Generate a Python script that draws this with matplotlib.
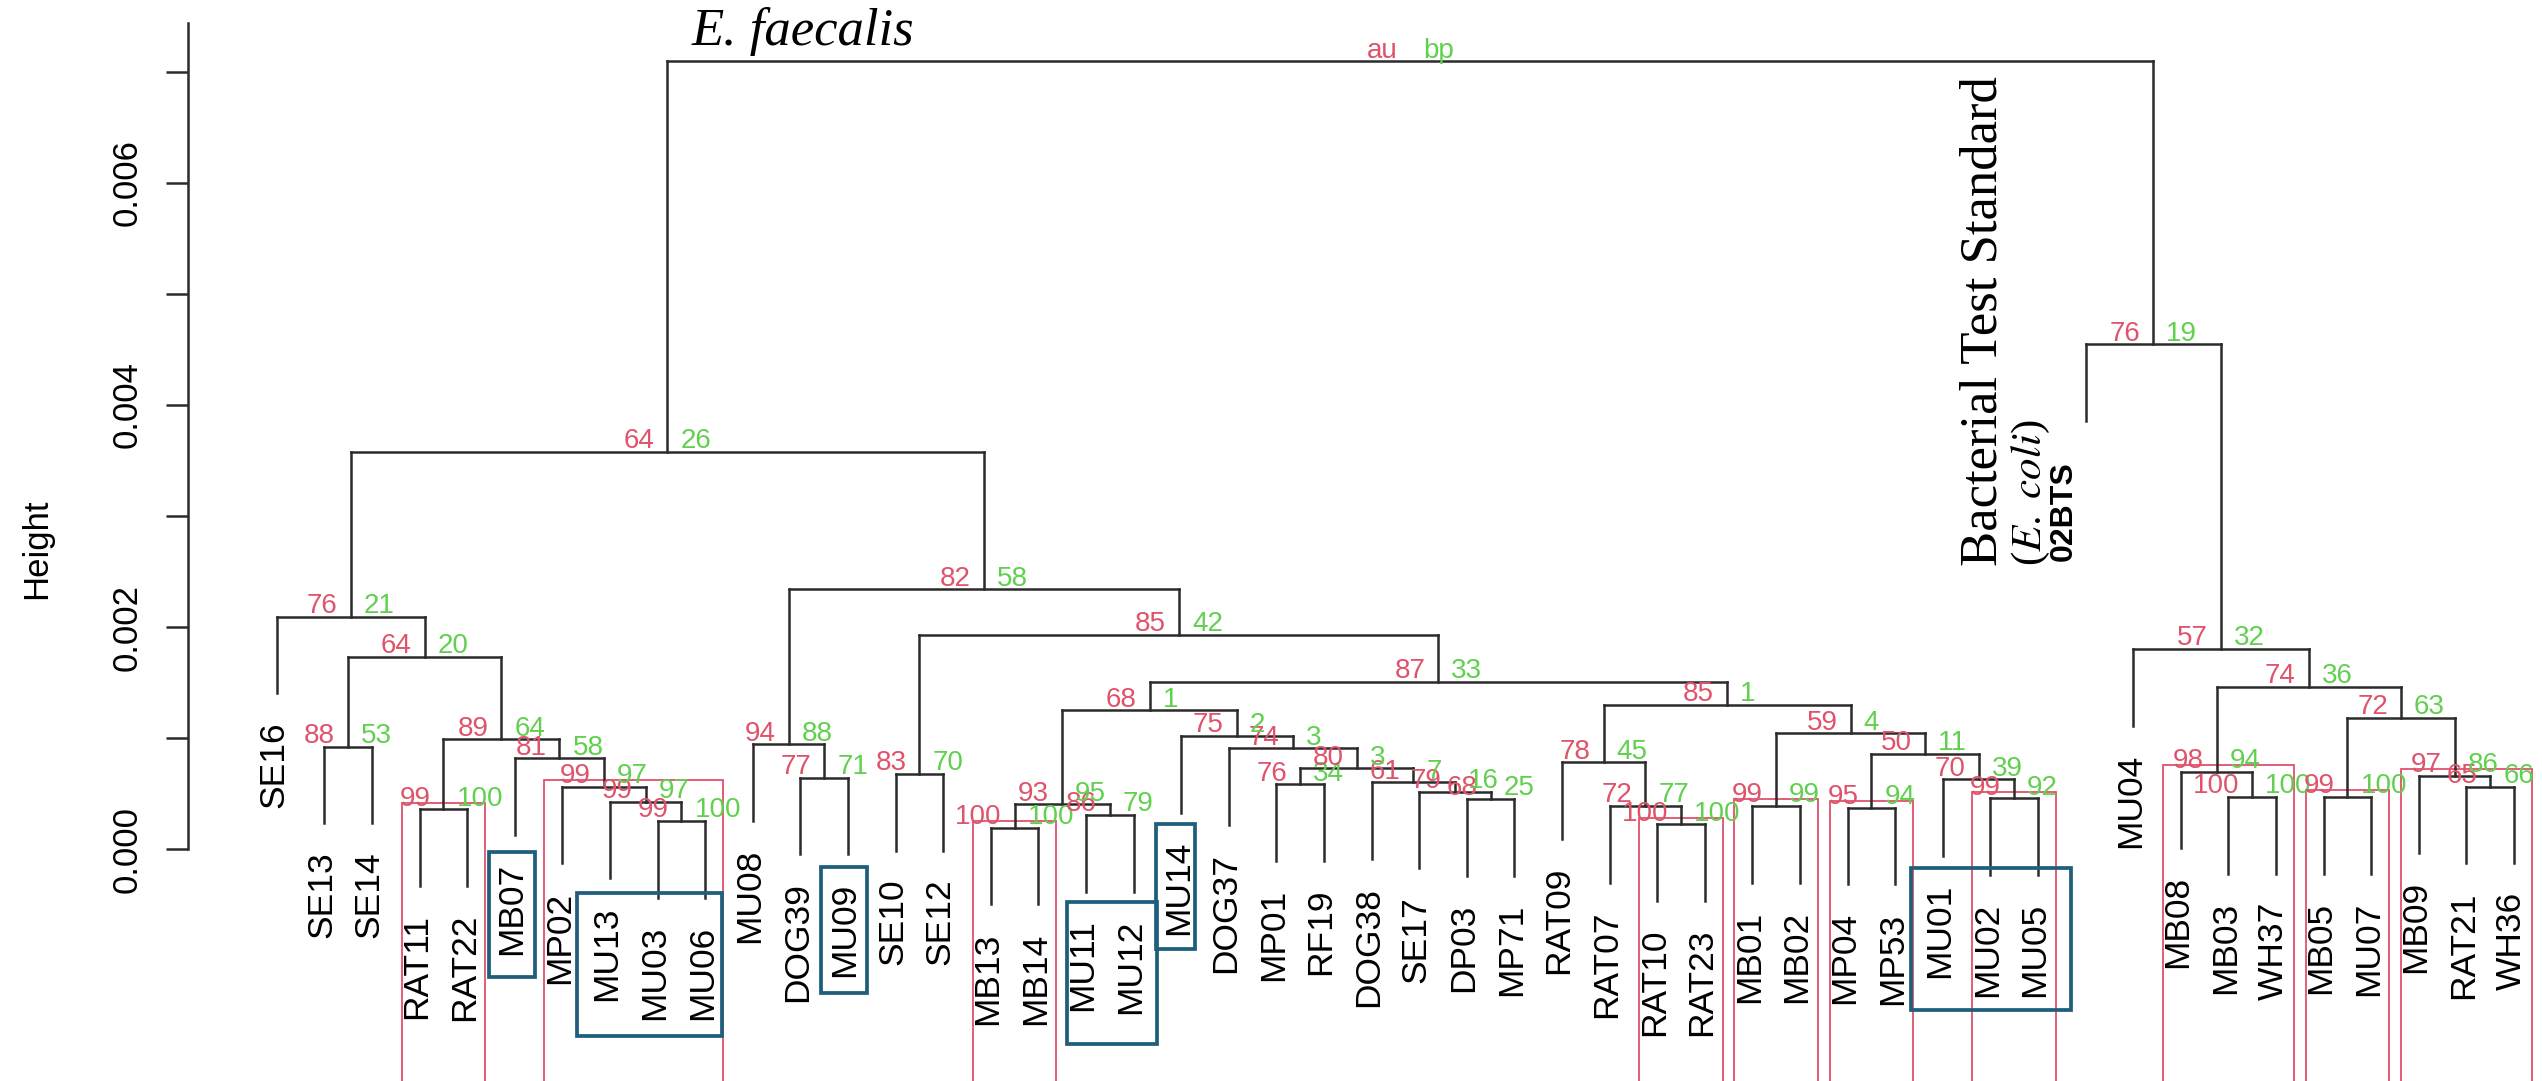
import numpy as np
import matplotlib
matplotlib.use("Agg")
import matplotlib.pyplot as plt
from matplotlib.patches import Rectangle
from matplotlib.collections import LineCollection

plt.rcParams["mathtext.fontset"] = "stix"

# ---------------- data ----------------
leaves = ["SE16", "SE13", "SE14", "RAT11", "RAT22", "MB07", "MP02", "MU13", "MU03", "MU06",
          "MU08", "DOG39", "MU09", "SE10", "SE12", "MB13", "MB14", "MU11", "MU12", "MU14",
          "DOG37", "MP01", "RF19", "DOG38", "SE17", "DP03", "MP71", "RAT09", "RAT07", "RAT10",
          "RAT23", "MB01", "MB02", "MP04", "MP53", "MU01", "MU02", "MU05", "02BTS", "MU04",
          "MB08", "MB03", "WH37", "MB05", "MU07", "MB09", "RAT21", "WH36"]

# merges: str = leaf name, int = earlier merge (1-based)
merges = [("MU03", "MU06"), ("MU13", 1), ("MP02", 2), ("MB07", 3), ("RAT11", "RAT22"),
          (5, 4), ("SE13", "SE14"), (7, 6), ("SE16", 8), ("DOG39", "MU09"),
          ("MU08", 10), ("SE10", "SE12"), ("MB13", "MB14"), ("MU11", "MU12"), (13, 14),
          ("MP01", "RF19"), ("DP03", "MP71"), ("SE17", 17), ("DOG38", 18), (16, 19),
          ("DOG37", 20), ("MU14", 21), (15, 22), ("RAT10", "RAT23"), ("RAT07", 24),
          ("RAT09", 25), ("MB01", "MB02"), ("MP04", "MP53"), ("MU02", "MU05"), ("MU01", 29),
          (28, 30), (27, 31), (26, 32), (23, 33), (12, 34),
          (11, 35), (9, 36), ("MB03", "WH37"), ("MB08", 38), ("MB05", "MU07"),
          ("RAT21", "WH36"), ("MB09", 41), (40, 42), (39, 43), ("MU04", 44),
          ("02BTS", 45), (37, 46)]

heights = [0.000256, 0.000429, 0.000564, 0.000820, 0.000361,
           0.000991, 0.000924, 0.001735, 0.002095, 0.000646,
           0.000946, 0.000679, 0.000196, 0.000310, 0.000406,
           0.000586, 0.000454, 0.000520, 0.000604, 0.000730,
           0.000910, 0.001021, 0.001252, 0.000226, 0.000391,
           0.000784, 0.000391, 0.000376, 0.000460, 0.000631,
           0.000859, 0.001045, 0.001300, 0.001510, 0.001930,
           0.002341, 0.003580, 0.000472, 0.000700, 0.000472,
           0.000564, 0.000661, 0.001186, 0.001465, 0.001804,
           0.004546, 0.007095]

au = ["99", "99", "99", "81", "99", "89", "88", "64", "76", "77",
      "94", "83", "100", "86", "93", "76", "68", "79", "61", "80",
      "74", "75", "68", "100", "72", "78", "99", "95", "99", "70",
      "50", "59", "85", "87", "85", "82", "64", "100", "98", "99",
      "65", "97", "72", "74", "57", "76", "au"]
bp = ["100", "97", "97", "58", "100", "64", "53", "20", "21", "71",
      "88", "70", "100", "79", "95", "34", "25", "16", "7", "3",
      "3", "2", "1", "100", "77", "45", "99", "94", "92", "39",
      "11", "4", "1", "33", "42", "58", "26", "100", "94", "100",
      "66", "86", "63", "36", "32", "19", "bp"]

y_ticks = [0.000, 0.001, 0.002, 0.003, 0.004, 0.005, 0.006, 0.007]
y_tick_labels = ["0.000", "", "0.002", "", "0.004", "", "0.006", ""]

# highlighted sample groups (annotation boxes): first leaf, last leaf
box_groups = [("MB07", "MB07"), ("MU13", "MU06"), ("MU09", "MU09"),
              ("MU11", "MU12"), ("MU14", "MU14"), ("MU01", "MU05")]

# ---------------- style / layout ----------------
W, H = 2542, 1081
DPI = 100
X0PX, DXPX = 276.8, 47.6          # pixel of first leaf, leaf spacing
Y0PX, PPU = 849.4, 111100.0       # pixel row of height 0, pixels per height unit

def pt(px):
    return px * 72.0 / DPI

AU_COL = "#DF536B"
BP_COL = "#61D04F"
LINE_COL = "#2b2b2b"
BOX_COL = "#1F5E7C"
SANS = ["Liberation Sans", "DejaVu Sans"]
SERIF = ["Liberation Serif", "DejaVu Serif"]

fig = plt.figure(figsize=(W / DPI, H / DPI), dpi=DPI)
ax = fig.add_axes([0, 0, 1, 1])
ax.set_xlim(1 - X0PX / DXPX, 1 + (W - X0PX) / DXPX)
ax.set_ylim((Y0PX - H) / PPU, Y0PX / PPU)
ax.patch.set_alpha(0)

# ---------------- dendrogram geometry ----------------
pos = {name: i + 1 for i, name in enumerate(leaves)}
hang = 0.1 * (max(heights) - min(heights))
node_x = []
members = []
segs = []
leaf_top = {}
for k, (a, b) in enumerate(merges):
    h = heights[k]
    xs, mem = [], set()
    for c in (a, b):
        if isinstance(c, str):
            cx, cy = pos[c], h - hang
            leaf_top[c] = cy
            mem.add(pos[c])
        else:
            cx, cy = node_x[c - 1], heights[c - 1]
            mem |= members[c - 1]
        segs.append([(cx, cy), (cx, h)])
        xs.append(cx)
    segs.append([(xs[0], h), (xs[1], h)])
    node_x.append(0.5 * (xs[0] + xs[1]))
    members.append(mem)

ax.add_collection(LineCollection(segs, colors=LINE_COL, linewidths=1.8,
                                 capstyle="projecting", zorder=3))

# au / bp values
for k in range(len(merges)):
    x, h = node_x[k], heights[k]
    ax.annotate(au[k], (x, h), xytext=(-pt(13), pt(3.5)), textcoords="offset points",
                ha="right", va="baseline", color=AU_COL, fontsize=20, family=SANS, zorder=4)
    ax.annotate(bp[k], (x, h), xytext=(pt(13), pt(3.5)), textcoords="offset points",
                ha="left", va="baseline", color=BP_COL, fontsize=20, family=SANS, zorder=4)

# leaf labels
for name in leaves:
    x, y = pos[name], leaf_top[name]
    if name == "02BTS":
        ax.annotate(name, (x, y), xytext=(-pt(22), -pt(40)), textcoords="offset points",
                    rotation=90, ha="center", va="top", fontsize=23, fontweight="bold",
                    family=SANS, color="black", zorder=4)
    else:
        ax.annotate(name, (x, y), xytext=(-pt(3), -pt(28)), textcoords="offset points",
                    rotation=90, ha="center", va="top", fontsize=25.5, family=SANS,
                    color="black", zorder=4)

# pvrect: maximal clusters with au >= 95
seen = set()
mx = (ax.get_xlim()[1] - ax.get_xlim()[0]) / (len(merges)) / 3
my = 6.7 / PPU
for k in range(len(merges) - 2, -1, -1):
    if au[k].isdigit() and int(au[k]) >= 95:
        m = members[k]
        if not (m & seen):
            xl, xr = min(m), max(m)
            yb = ax.get_ylim()[0] - 0.001
            ax.add_patch(Rectangle((xl - mx, yb), xr - xl + 2 * mx, heights[k] + my - yb,
                                   fill=False, edgecolor=AU_COL, linewidth=1.3, zorder=2))
        seen |= m

# annotation boxes around highlighted samples
box_pad = {("MB07", "MB07"): (0.54, 0.43, 852, 977),
           ("MU13", "MU06"): (0.69, 0.36, 893, 1036),
           ("MU09", "MU09"): (0.57, 0.40, 867, 993),
           ("MU11", "MU12"): (0.40, 0.49, 902, 1044),
           ("MU14", "MU14"): (0.53, 0.29, 824, 949),
           ("MU01", "MU05"): (0.67, 0.69, 868, 1010)}
for g in box_groups:
    pl, pr, top_px, bot_px = box_pad[g]
    xl, xr = pos[g[0]] - pl, pos[g[1]] + pr
    yt, yb = (Y0PX - top_px) / PPU, (Y0PX - bot_px) / PPU
    ax.add_patch(Rectangle((xl, yb), xr - xl, yt - yb, fill=False, edgecolor=BOX_COL,
                           linewidth=2.7, zorder=5))

# ---------------- y axis ----------------
for s in ("top", "right", "bottom"):
    ax.spines[s].set_visible(False)
ax.spines["left"].set_position(("data", 1 + (188 - X0PX) / DXPX))
ax.spines["left"].set_bounds(0, (Y0PX - 22.7) / PPU)
ax.spines["left"].set_linewidth(1.8)
ax.spines["left"].set_color(LINE_COL)
ax.set_xticks([])
ax.set_yticks(y_ticks)
ax.set_yticklabels(y_tick_labels, rotation=90, va="center", fontsize=25, family=SANS)
ax.tick_params(axis="y", length=pt(22), width=1.8, color=LINE_COL, pad=pt(22))

fig.text(37 / W, 1 - 549 / H, "Height", rotation=90, ha="center", va="center",
         fontsize=25, family=SANS)

# ---------------- annotations ----------------
fig.text(692 / W, 1 - 45 / H, "E. faecalis", ha="left", va="baseline",
         fontsize=38, family=SERIF, style="italic")
fig.text(1983 / W, 1 - 566 / H, "Bacterial Test Standard", rotation=90,
         ha="center", va="bottom", fontsize=38, family=SERIF)
fig.text(2031 / W, 1 - 566 / H, "($\\mathit{E.\\ coli}$)", rotation=90,
         ha="center", va="bottom", fontsize=31, family=SERIF)

fig.savefig("out.png", dpi=DPI)
